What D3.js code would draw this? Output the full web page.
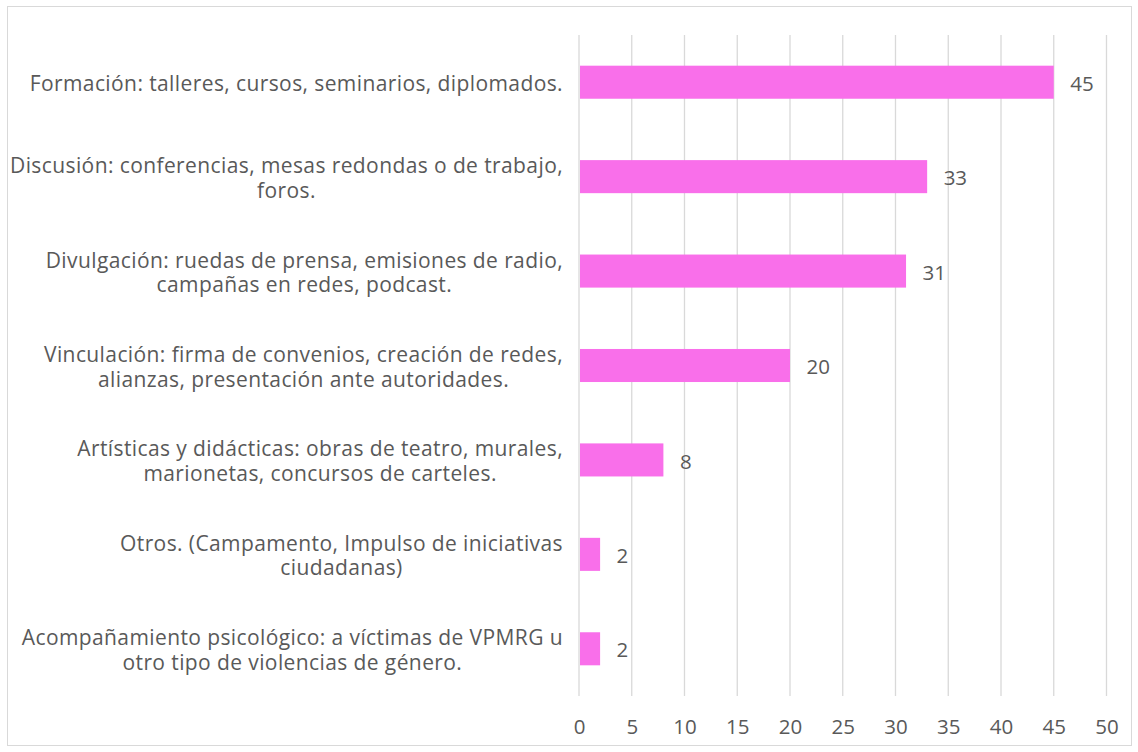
<!DOCTYPE html>
<html>
<head>
<meta charset="utf-8">
<script src="https://cdn.jsdelivr.net/npm/d3@7"></script>
<style>
  body { margin: 0; background: #fff; }
  text { font-family: "Open Sans", sans-serif; fill: #595959; }
</style>
</head>
<body>
<div class="chart"></div>
<script>
// categorias (cada una ya partida en lineas, como en el original)
var categorias = [
    ["Formación: talleres, cursos, seminarios, diplomados."],
    ["Discusión: conferencias, mesas redondas o de trabajo,", "foros."],
    ["Divulgación: ruedas de prensa, emisiones de radio,", "campañas en redes, podcast."],
    ["Vinculación: firma de convenios, creación de redes,", "alianzas, presentación ante autoridades."],
    ["Artísticas y didácticas: obras de teatro, murales,", "marionetas, concursos de carteles."],
    ["Otros. (Campamento, Impulso de iniciativas", "ciudadanas)"],
    ["Acompañamiento psicológico: a víctimas de VPMRG u", "otro tipo de violencias de género."]
];
var valores = [45, 33, 31, 20, 8, 2, 2];
var ticks = [0, 5, 10, 15, 20, 25, 30, 35, 40, 45, 50];

var width = 1138, height = 752;
var plotL = 579, plotR = 1106.5, plotT = 35, plotB = 696;

var svg = d3.select(".chart").append("svg")
    .attr("width", width)
    .attr("height", height);

// marco del grafico
svg.append("rect")
    .attr("x", 7.5).attr("y", 6.5)
    .attr("width", 1124).attr("height", 739)
    .attr("fill", "#fff")
    .attr("stroke", "#d9d9d9");

var x = d3.scaleLinear().domain([0, 50]).range([plotL, plotR]);
var y = d3.scaleBand()
    .domain(d3.range(categorias.length))
    .range([plotT, plotB])
    .paddingInner(0.65)
    .paddingOuter(0.325);

// lineas de cuadricula
svg.append("g").selectAll("line")
    .data(ticks)
    .enter()
    .append("line")
    .attr("x1", function (d) { return x(d); })
    .attr("x2", function (d) { return x(d); })
    .attr("y1", plotT)
    .attr("y2", plotB)
    .attr("stroke", "#d9d9d9")
    .attr("stroke-width", 1.3);

// eje x, solo etiquetas
var eje = svg.append("g")
    .attr("transform", "translate(0," + plotB + ")")
    .call(d3.axisBottom(x).tickValues(ticks).tickSize(0).tickPadding(23));
eje.select(".domain").remove();
eje.selectAll("text")
    .style("font-family", '"Open Sans", sans-serif')
    .style("font-size", "20.5px")
    .attr("fill", "#595959");

// barras
svg.append("g").selectAll("rect")
    .data(valores)
    .enter()
    .append("rect")
    .attr("x", x(0) + 1)
    .attr("y", function (d, i) { return y(i); })
    .attr("width", function (d) { return x(d) - x(0) - 1; })
    .attr("height", y.bandwidth())
    .attr("fill", "#f96fea");

// valores al final de cada barra
svg.append("g").selectAll("text")
    .data(valores)
    .enter()
    .append("text")
    .text(function (d) { return d; })
    .attr("x", function (d) { return x(d) + 16.5; })
    .attr("y", function (d, i) { return y(i) + y.bandwidth() / 2; })
    .attr("dy", "0.42em")
    .style("font-size", "20.5px");

// etiquetas de categorias: bloque alineado a la derecha, lineas centradas
var lineH = 24.5, bloqueDer = 563;
var grupos = svg.append("g").selectAll("text")
    .data(categorias)
    .enter()
    .append("text")
    .style("font-size", "21px")
    .style("letter-spacing", "0.4px")
    .attr("text-anchor", "middle");

grupos.each(function (lineas, i) {
    var t = d3.select(this);
    var cy = y(i) + y.bandwidth() / 2;
    var y0 = cy - (lineas.length - 1) * lineH / 2;
    lineas.forEach(function (l, k) {
        t.append("tspan").text(l).attr("y", y0 + k * lineH).attr("dy", "0.42em");
    });
    var maxW = 0;
    t.selectAll("tspan").each(function () {
        maxW = Math.max(maxW, this.getComputedTextLength());
    });
    t.selectAll("tspan").attr("x", bloqueDer - maxW / 2);
});
</script>
</body>
</html>
